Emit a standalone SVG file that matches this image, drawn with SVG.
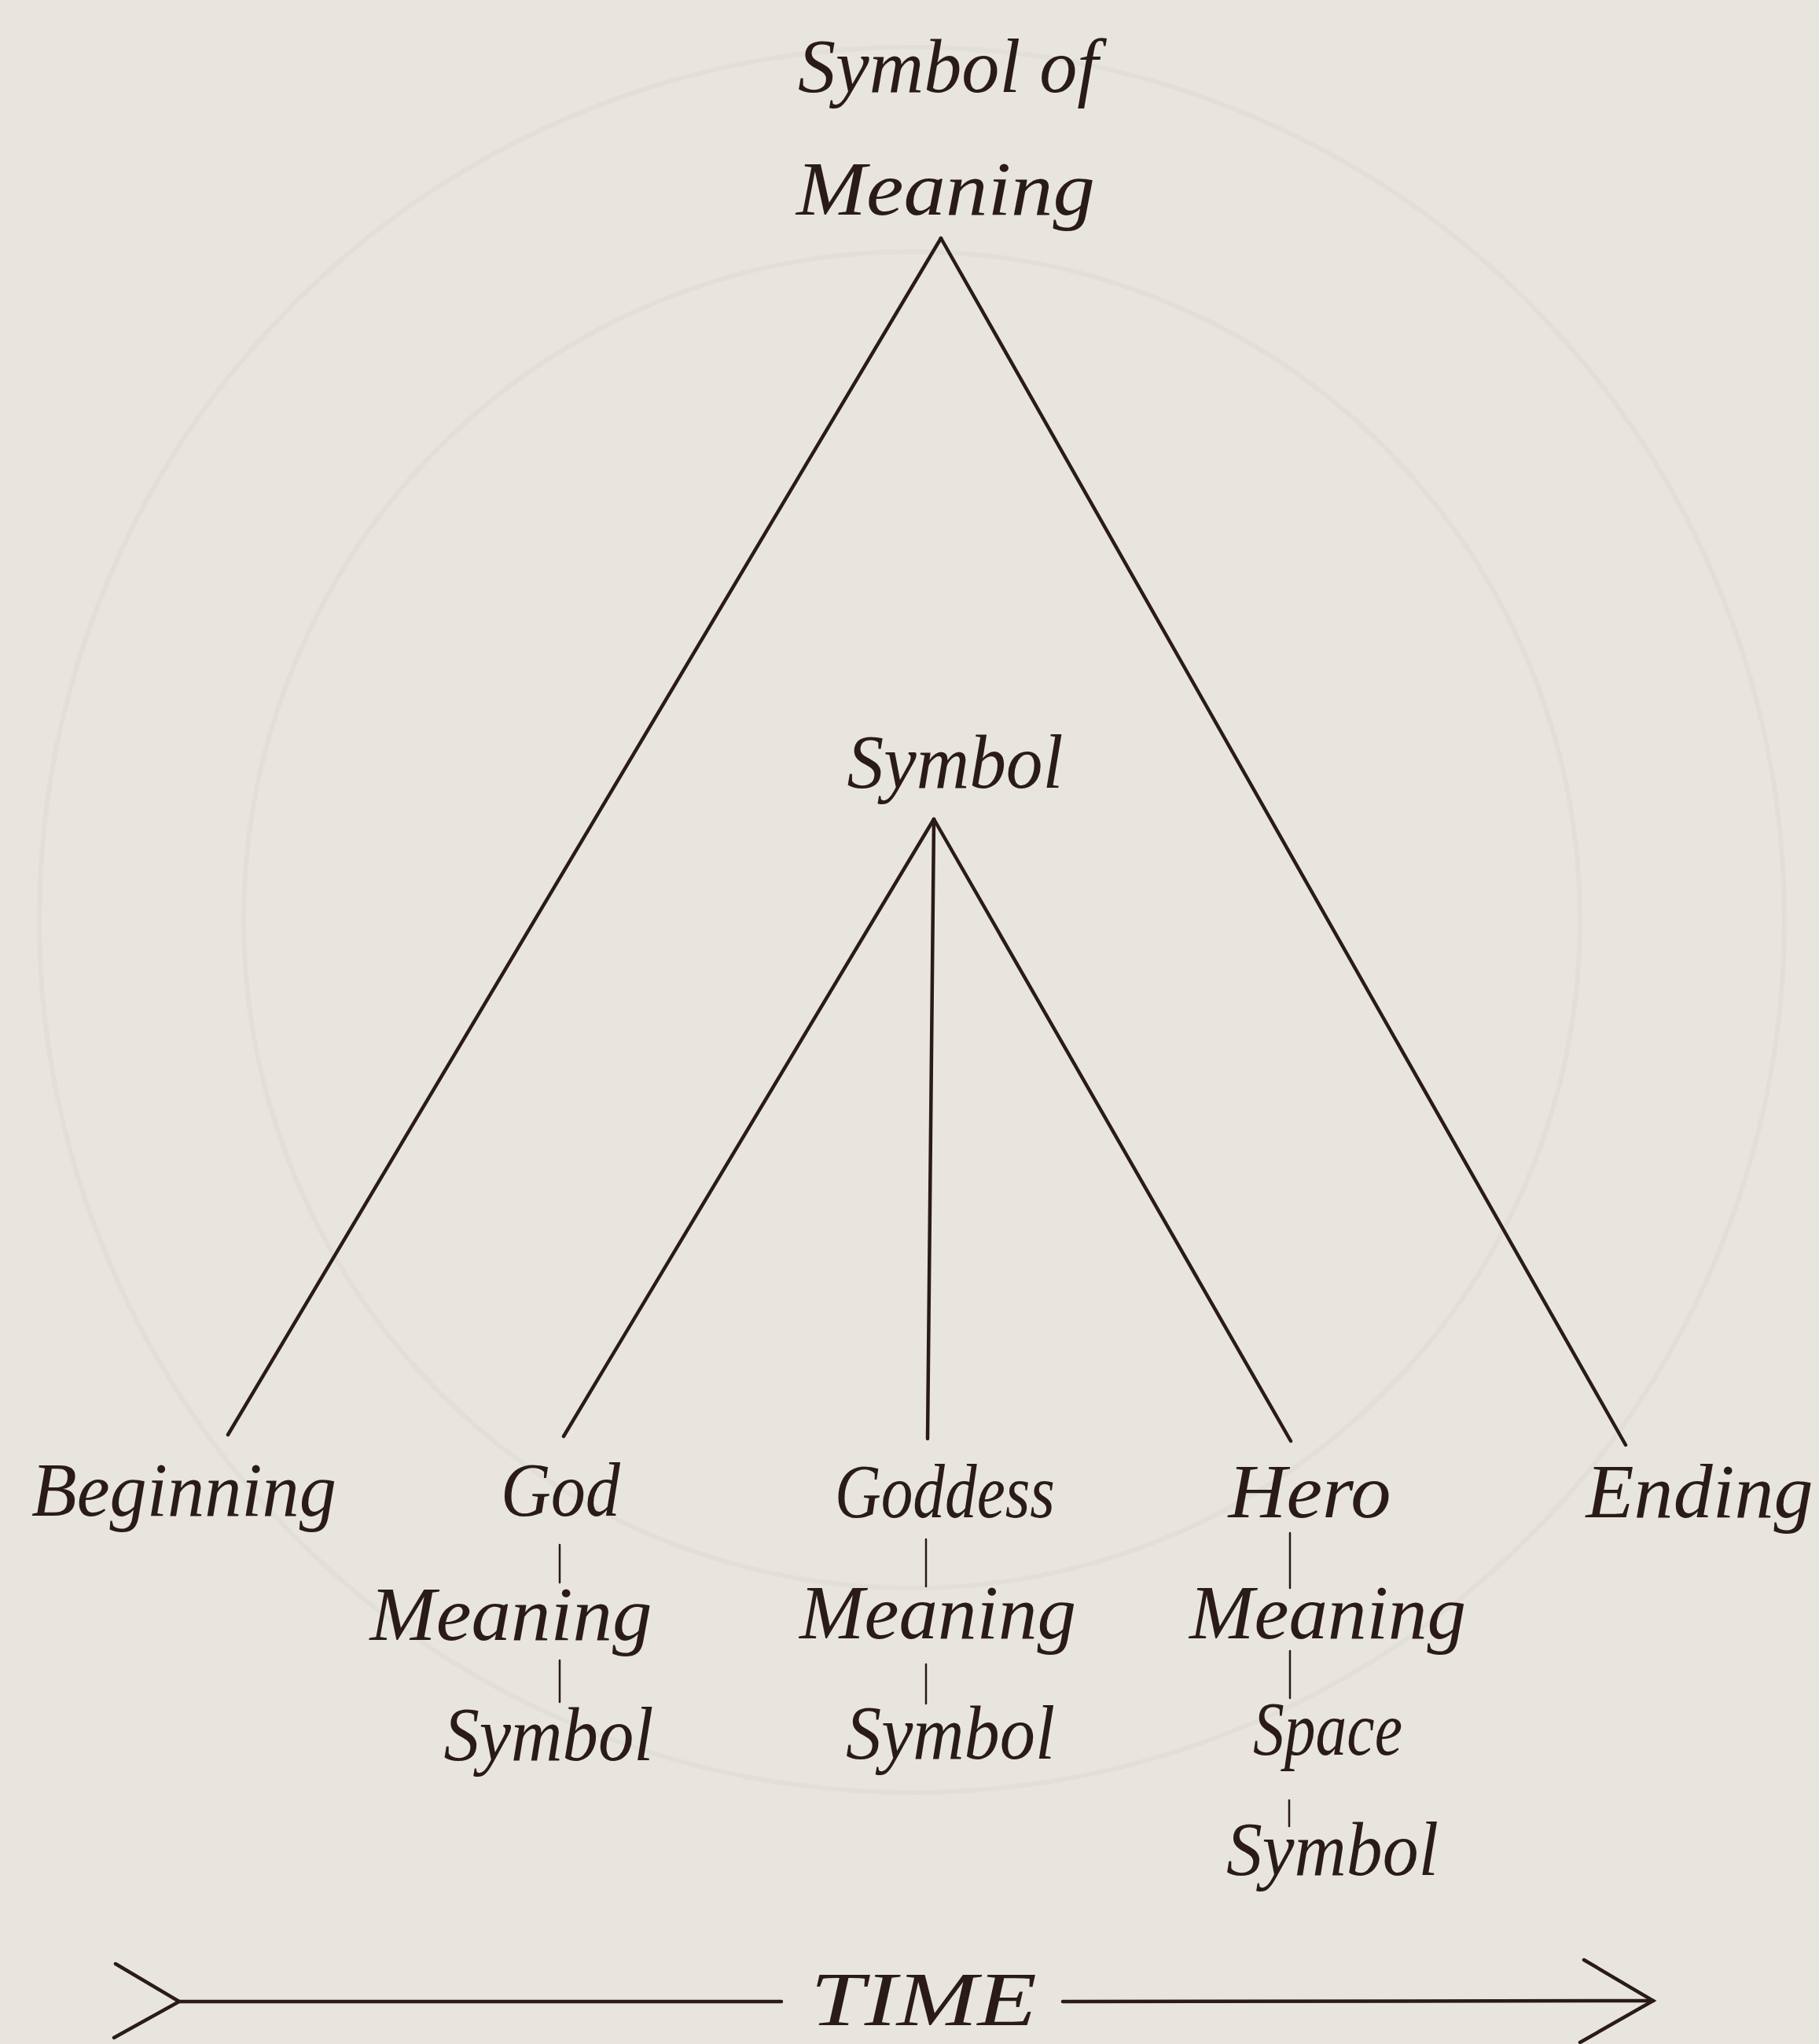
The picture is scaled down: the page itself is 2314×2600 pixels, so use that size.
<svg xmlns="http://www.w3.org/2000/svg" width="2314" height="2600" viewBox="0 0 2314 2600">
  <style>
    .lbl { font-family: "Liberation Serif", "DejaVu Serif", serif; font-style: italic; font-size: 98px; fill: #2a1b18; text-anchor: middle; }
    .ln { stroke: #2a1b18; stroke-width: 4.5; fill: none; stroke-linecap: round; stroke-linejoin: miter; }
    .tick { stroke: #2a1b18; stroke-width: 2.5; fill: none; stroke-linecap: round; }
    .ghost { stroke: #e1dfd8; stroke-width: 6; fill: none; }
  </style>
  <rect x="0" y="0" width="2314" height="2600" fill="#e7e5de"/>
  <g id="background">
    <circle class="ghost" cx="1160" cy="1170" r="1110"/>
    <circle class="ghost" cx="1160" cy="1170" r="850"/>
  </g>
  <g id="connectors">
    <line class="ln" x1="1197" y1="303" x2="290" y2="1825"/>
    <line class="ln" x1="1197" y1="303" x2="2068" y2="1838"/>
    <line class="ln" x1="1188" y1="1042" x2="717" y2="1827"/>
    <line class="ln" x1="1188" y1="1042" x2="1180" y2="1830"/>
    <line class="ln" x1="1188" y1="1042" x2="1642" y2="1833"/>
    <line class="tick" x1="712" y1="1965" x2="712" y2="2013"/>
    <line class="tick" x1="712" y1="2112" x2="712" y2="2165"/>
    <line class="tick" x1="1178" y1="1958" x2="1178" y2="2018"/>
    <line class="tick" x1="1178" y1="2117" x2="1178" y2="2167"/>
    <line class="tick" x1="1641" y1="1950" x2="1641" y2="2020"/>
    <line class="tick" x1="1641" y1="2100" x2="1641" y2="2160"/>
    <line class="tick" x1="1640" y1="2290" x2="1640" y2="2323"/>
    <polyline class="ln" points="147,2498 228,2546 145,2592"/>
    <line class="ln" x1="228" y1="2546" x2="994" y2="2546"/>
    <line class="ln" x1="1352" y1="2546" x2="2103" y2="2545"/>
    <polyline class="ln" points="2015,2493 2103,2545 2010,2598"/>
  </g>
  <g id="node-symbol-of-meaning">
    <text class="lbl" x="1206" y="117" textLength="382" lengthAdjust="spacingAndGlyphs">Symbol of</text>
    <text class="lbl" x="1203" y="273" textLength="380" lengthAdjust="spacingAndGlyphs">Meaning</text>
  </g>
  <g id="node-symbol">
    <text class="lbl" x="1215" y="1002" textLength="275" lengthAdjust="spacingAndGlyphs">Symbol</text>
  </g>
  <g id="node-beginning">
    <text class="lbl" x="234" y="1928" textLength="388" lengthAdjust="spacingAndGlyphs">Beginning</text>
  </g>
  <g id="node-god">
    <text class="lbl" x="713" y="1928" textLength="152" lengthAdjust="spacingAndGlyphs">God</text>
    <text class="lbl" x="650" y="2086" textLength="359" lengthAdjust="spacingAndGlyphs">Meaning</text>
    <text class="lbl" x="698" y="2239" textLength="267" lengthAdjust="spacingAndGlyphs">Symbol</text>
  </g>
  <g id="node-goddess">
    <text class="lbl" x="1202" y="1930" textLength="280" lengthAdjust="spacingAndGlyphs">Goddess</text>
    <text class="lbl" x="1193" y="2084" textLength="352" lengthAdjust="spacingAndGlyphs">Meaning</text>
    <text class="lbl" x="1209" y="2237" textLength="266" lengthAdjust="spacingAndGlyphs">Symbol</text>
  </g>
  <g id="node-hero">
    <text class="lbl" x="1666" y="1930" textLength="207" lengthAdjust="spacingAndGlyphs">Hero</text>
    <text class="lbl" x="1689" y="2084" textLength="352" lengthAdjust="spacingAndGlyphs">Meaning</text>
    <text class="lbl" x="1689" y="2232" textLength="190" lengthAdjust="spacingAndGlyphs">Space</text>
    <text class="lbl" x="1695" y="2385" textLength="270" lengthAdjust="spacingAndGlyphs">Symbol</text>
  </g>
  <g id="node-ending">
    <text class="lbl" x="2162" y="1930" textLength="289" lengthAdjust="spacingAndGlyphs">Ending</text>
  </g>
  <g id="node-time">
    <text class="lbl" x="1175" y="2576" font-size="92" textLength="288" lengthAdjust="spacingAndGlyphs">TIME</text>
  </g>
</svg>
